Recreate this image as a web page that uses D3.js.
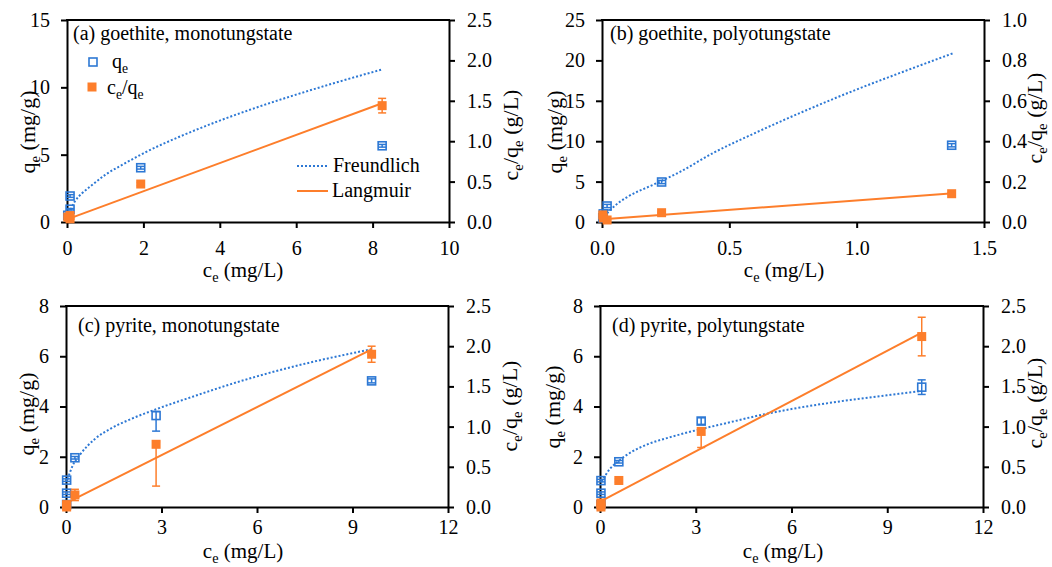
<!DOCTYPE html>
<html>
<head>
<meta charset="utf-8">
<script src="https://d3js.org/d3.v7.min.js"></script>
<style>
  body { margin: 0; background: #fff; }
  svg { display: block; }
  text { font-family: 'Liberation Serif', 'Times New Roman', serif; fill: #000; }
</style>
</head>
<body>
<svg width="1052" height="567"></svg>
<script>
// ---- data ----
// (a) goethite, monotungstate
var aCe      = [0.02, 0.08, 0.08, 1.93, 8.25];
var aQe      = [0.5, 0.95, 1.93, 4.03, 5.66];
var aQeErr   = [0.05, 0.05, 0.1, 0.1, 0.1];
var aCq      = [0.06, 0.08, 0.04, 0.47, 1.44];
var aCqErr   = [0.01, 0.01, 0.01, 0.02, 0.09];
var aFreCe   = [0.05, 0.1, 0.2, 0.4, 0.6, 1.0, 1.5, 2.0, 3.0, 4.0, 5.0, 6.0, 7.0, 8.25];
var aFreQ    = [0.64, 0.94, 1.5, 2.15, 2.62, 3.5, 4.33, 5.1, 6.4, 7.53, 8.54, 9.46, 10.32, 11.33];
var aLanCe   = [0.02, 8.25];
var aLanCq   = [0.035, 1.47];

// (b) goethite, polyotungstate
var bCe      = [0.003, 0.005, 0.02, 0.234, 1.373];
var bQe      = [0.5, 1.0, 1.98, 4.95, 9.5];
var bQeErr   = [0.2, 0.2, 0.2, 0.2, 0.2];
var bCq      = [0.035, 0.02, 0.01, 0.046, 0.14];
var bCqErr   = [0.003, 0.003, 0.003, 0.003, 0.004];
var bFreCe   = [0.02, 0.05, 0.1, 0.2, 0.3, 0.44, 0.6, 0.8, 1.0, 1.2, 1.38];
var bFreQ    = [1.07, 2.0, 3.1, 4.6, 6.1, 8.6, 11.0, 13.8, 16.4, 18.8, 20.9];
var bLanCe   = [0.005, 1.38];
var bLanCq   = [0.014, 0.142];

// (c) pyrite, monotungstate
var cCe      = [0.02, 0.02, 0.02, 0.28, 2.83, 9.6];
var cQe      = [0.1, 0.55, 1.07, 1.96, 3.64, 5.02];
var cQeLo    = [0.05, 0.05, 0.05, 0.05, 0.62, 0.08];
var cQeHi    = [0.05, 0.05, 0.05, 0.05, 0.16, 0.08];
var cCq      = [0.0, 0.02, 0.03, 0.15, 0.78, 1.9];
var cCqLo    = [0.01, 0.01, 0.01, 0.07, 0.52, 0.1];
var cCqHi    = [0.01, 0.01, 0.01, 0.07, 0.03, 0.1];
var cFreCe   = [0.05, 0.2, 0.45, 0.9, 1.4, 2.0, 2.85, 4.0, 5.0, 6.0, 7.5, 9.6];
var cFreQ    = [1.1, 1.62, 2.1, 2.7, 3.12, 3.48, 3.9, 4.4, 4.82, 5.2, 5.7, 6.28];
var cLanCe   = [0.02, 9.6];
var cLanCq   = [0.05, 1.96];

// (d) pyrite, polytungstate
var dCe      = [0.03, 0.03, 0.03, 0.59, 3.17, 10.08];
var dQe      = [0.1, 0.55, 1.05, 1.8, 3.42, 4.77];
var dQeErr   = [0.05, 0.05, 0.05, 0.05, 0.13, 0.29];
var dCq      = [0.0, 0.03, 0.05, 0.33, 0.94, 2.12];
var dCqLo    = [0.01, 0.01, 0.01, 0.02, 0.2, 0.24];
var dCqHi    = [0.01, 0.01, 0.01, 0.02, 0.03, 0.24];
var dFreCe   = [0.05, 0.3, 0.6, 1.0, 1.5, 2.2, 3.0, 4.0, 5.0, 6.0, 7.5, 9.0, 10.08];
var dFreQ    = [1.0, 1.5, 1.85, 2.2, 2.5, 2.78, 3.05, 3.35, 3.65, 3.9, 4.2, 4.45, 4.62];
var dLanCe   = [0.02, 10.08];
var dLanCq   = [0.07, 2.17];

// tick values
var xTicksA = [0, 2, 4, 6, 8, 10];
var xTicksB = [0, 0.5, 1.0, 1.5];
var xTicksCD = [0, 3, 6, 9, 12];
var qTicksA = [0, 5, 10, 15];
var qTicksB = [0, 5, 10, 15, 20, 25];
var qTicksCD = [0, 2, 4, 6, 8];
var rTicksACD = [0, 0.5, 1.0, 1.5, 2.0, 2.5];
var rTicksB = [0, 0.2, 0.4, 0.6, 0.8, 1.0];

var titles = ["(a) goethite, monotungstate", "(b) goethite, polyotungstate",
              "(c) pyrite, monotungstate", "(d) pyrite, polytungstate"];

var blue = "#2d78d4", orange = "#fd7e2b";
var fs = 20, labFs = 22, xLabFs = 21;

var svg = d3.select("svg");

// text with subscripts: parts starting with "_" are subscripts
function rich(t, parts, size) {
    var shift = size * 0.25, down = false;
    parts.forEach(function(p) {
        var isSub = p.charAt(0) === "_";
        var ts = t.append("tspan").text(isSub ? p.slice(1) : p);
        if (isSub) {
            ts.attr("font-size", size * 0.68);
            if (!down) { ts.attr("dy", shift); down = true; }
        } else if (down) {
            ts.attr("dy", -shift); down = false;
        }
    });
    return t;
}

var panels = [
    {x: [67, 449], y: [20, 222], xMax: 10, xTicks: xTicksA, xFmt: "d", qMax: 15, qTicks: qTicksA,
     rMax: 2.5, rTicks: rTicksACD, ce: aCe, qe: aQe, qLo: aQeErr, qHi: aQeErr, cq: aCq, cLo: aCqErr, cHi: aCqErr,
     fCe: aFreCe, fQ: aFreQ, lCe: aLanCe, lCq: aLanCq, pad: 13,
     yl: [28, 132], yr: [511, 135], xl: [243, 277], title: [73, 40]},
    {x: [602, 984], y: [20, 222], xMax: 1.5, xTicks: xTicksB, xFmt: ".1f", qMax: 25, qTicks: qTicksB,
     rMax: 1.0, rTicks: rTicksB, ce: bCe, qe: bQe, qLo: bQeErr, qHi: bQeErr, cq: bCq, cLo: bCqErr, cHi: bCqErr,
     fCe: bFreCe, fQ: bFreQ, lCe: bLanCe, lCq: bLanCq, pad: 13,
     yl: [555, 132], yr: [1035, 118], xl: [784, 277], title: [610, 40]},
    {x: [66, 448], y: [306, 507], xMax: 12, xTicks: xTicksCD, xFmt: "d", qMax: 8, qTicks: qTicksCD,
     rMax: 2.5, rTicks: rTicksACD, ce: cCe, qe: cQe, qLo: cQeLo, qHi: cQeHi, cq: cCq, cLo: cCqLo, cHi: cCqHi,
     fCe: cFreCe, fQ: cFreQ, lCe: cLanCe, lCq: cLanCq, pad: 7,
     yl: [27, 414], yr: [510, 406], xl: [243, 558], title: [78, 332]},
    {x: [600, 983], y: [306, 507], xMax: 12, xTicks: xTicksCD, xFmt: "d", qMax: 8, qTicks: qTicksCD,
     rMax: 2.5, rTicks: rTicksACD, ce: dCe, qe: dQe, qLo: dQeErr, qHi: dQeErr, cq: dCq, cLo: dCqLo, cHi: dCqHi,
     fCe: dFreCe, fQ: dFreQ, lCe: dLanCe, lCq: dLanCq, pad: 7,
     yl: [553, 407], yr: [1035, 403], xl: [783, 558], title: [612, 332]}
];

panels.forEach(function(p, pi) {
    var x = d3.scaleLinear().domain([0, p.xMax]).range(p.x);
    var yq = d3.scaleLinear().domain([0, p.qMax]).range([p.y[1], p.y[0]]);
    var yc = d3.scaleLinear().domain([0, p.rMax]).range([p.y[1], p.y[0]]);
    var g = svg.append("g");

    // axes
    var ax = g.append("g").attr("transform", "translate(0," + p.y[1] + ")")
        .call(d3.axisBottom(x).tickValues(p.xTicks).tickFormat(d3.format(p.xFmt))
              .tickSize(6).tickSizeOuter(0).tickPadding(p.pad));
    var al = g.append("g").attr("transform", "translate(" + p.x[0] + ",0)")
        .call(d3.axisLeft(yq).tickValues(p.qTicks).tickFormat(d3.format("d"))
              .tickSize(6).tickSizeOuter(0).tickPadding(11));
    var ar = g.append("g").attr("transform", "translate(" + p.x[1] + ",0)")
        .call(d3.axisRight(yc).tickValues(p.rTicks).tickFormat(d3.format(".1f"))
              .tickSize(6).tickSizeOuter(0).tickPadding(12));
    [ax, al, ar].forEach(function(a) {
        a.selectAll("path.domain").attr("stroke", "#000").attr("stroke-width", 2);
        a.selectAll(".tick line").attr("stroke", "#000").attr("stroke-width", 2);
        a.selectAll("text").attr("font-size", fs).attr("fill", "#000");
    });
    g.append("line").attr("x1", p.x[0] - 1).attr("x2", p.x[1] + 1)
        .attr("y1", p.y[0]).attr("y2", p.y[0]).attr("stroke", "#000").attr("stroke-width", 2);

    // axis titles
    rich(g.append("text").attr("font-size", xLabFs).attr("text-anchor", "middle")
        .attr("x", p.xl[0]).attr("y", p.xl[1]), ["c", "_e", " (mg/L)"], xLabFs);
    rich(g.append("text").attr("font-size", labFs).attr("text-anchor", "middle").attr("dy", "0.3em")
        .attr("transform", "translate(" + p.yl[0] + "," + p.yl[1] + ") rotate(-90)"),
        ["q", "_e", " (mg/g)"], labFs);
    rich(g.append("text").attr("font-size", labFs).attr("text-anchor", "middle").attr("dy", "0.3em")
        .attr("transform", "translate(" + p.yr[0] + "," + p.yr[1] + ") rotate(-90)"),
        ["c", "_e", "/q", "_e", " (g/L)"], labFs);

    g.append("text").attr("x", p.title[0]).attr("y", p.title[1]).attr("font-size", fs)
        .text(titles[pi]);

    // fit lines
    var fre = d3.line().curve(d3.curveMonotoneX)
        .x(function(d, i) { return x(p.fCe[i]); }).y(function(d) { return yq(d); });
    g.append("path").attr("d", fre(p.fQ)).attr("fill", "none").attr("stroke", blue)
        .attr("stroke-width", 2).attr("stroke-dasharray", "2,2");
    var lan = d3.line().x(function(d, i) { return x(p.lCe[i]); }).y(function(d) { return yc(d); });
    g.append("path").attr("d", lan(p.lCq)).attr("fill", "none").attr("stroke", orange)
        .attr("stroke-width", 2);

    // error bars + markers
    function errBars(vals, lo, hi, ys, col) {
        vals.forEach(function(v, i) {
            var cx = x(p.ce[i]), top = ys(v + hi[i]), bot = ys(Math.max(0, v - lo[i]));
            g.append("line").attr("x1", cx).attr("x2", cx).attr("y1", top).attr("y2", bot)
                .attr("stroke", col).attr("stroke-width", 1.5);
            [top, bot].forEach(function(yy) {
                g.append("line").attr("x1", cx - 4).attr("x2", cx + 4).attr("y1", yy).attr("y2", yy)
                    .attr("stroke", col).attr("stroke-width", 1.5);
            });
        });
    }
    errBars(p.qe, p.qLo, p.qHi, yq, blue);
    g.selectAll(null).data(p.qe).enter().append("rect")
        .attr("x", function(d, i) { return x(p.ce[i]) - 4; })
        .attr("y", function(d) { return yq(d) - 4; })
        .attr("width", 8).attr("height", 8)
        .attr("fill", "none").attr("stroke", blue).attr("stroke-width", 1.6);

    errBars(p.cq, p.cLo, p.cHi, yc, orange);
    g.selectAll(null).data(p.cq).enter().append("rect")
        .attr("x", function(d, i) { return x(p.ce[i]) - 4.5; })
        .attr("y", function(d) { return yc(d) - 4.5; })
        .attr("width", 9).attr("height", 9)
        .attr("fill", orange);

    // legend only in panel (a)
    if (pi === 0) {
        g.append("rect").attr("x", 89).attr("y", 58).attr("width", 8).attr("height", 8)
            .attr("fill", "none").attr("stroke", blue).attr("stroke-width", 1.6);
        rich(g.append("text").attr("x", 112).attr("y", 68).attr("font-size", fs), ["q", "_e"], fs);
        g.append("rect").attr("x", 87.5).attr("y", 82.5).attr("width", 9).attr("height", 9)
            .attr("fill", orange);
        rich(g.append("text").attr("x", 107).attr("y", 94).attr("font-size", fs),
            ["c", "_e", "/q", "_e"], fs);
        g.append("line").attr("x1", 297).attr("x2", 328).attr("y1", 166).attr("y2", 166)
            .attr("stroke", blue).attr("stroke-width", 2).attr("stroke-dasharray", "2,2");
        g.append("text").attr("x", 333).attr("y", 172).attr("font-size", fs).text("Freundlich");
        g.append("line").attr("x1", 297).attr("x2", 328).attr("y1", 191).attr("y2", 191)
            .attr("stroke", orange).attr("stroke-width", 2);
        g.append("text").attr("x", 332).attr("y", 197).attr("font-size", fs).text("Langmuir");
    }
});
</script>
</body>
</html>
